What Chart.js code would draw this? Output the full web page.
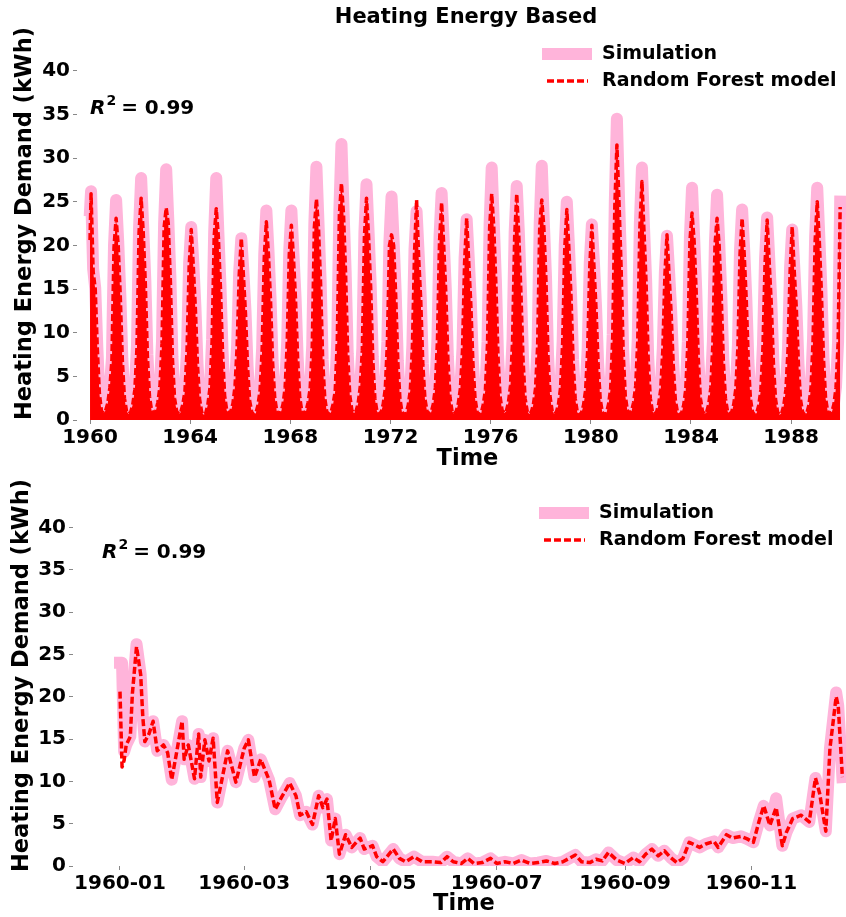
<!DOCTYPE html>
<html>
<head>
<meta charset="utf-8">
<script src="https://cdn.jsdelivr.net/npm/chart.js@4.4.1/dist/chart.umd.min.js"></script>
<style>
  html, body { margin: 0; padding: 0; background: #fff; overflow: hidden; }
  #top-wrap { position: absolute; left: 0; top: 0; width: 858px; height: 470px; }
  #bottom-wrap { position: absolute; left: 0; top: 470px; width: 855px; height: 447px; }
</style>
</head>
<body>
<div id="top-wrap"><canvas id="top-chart"></canvas></div>
<div id="bottom-wrap"><canvas id="bottom-chart"></canvas></div>
<script>
// ---- data -------------------------------------------------------------
const SIM_LABEL = 'Simulation';
const RF_LABEL = 'Random Forest model';

// top panel: monthly upper envelope of the daily series, one row per year (Jan..Dec)
const firstYear = 1960;
const topTickYears = [1960, 1964, 1968, 1972, 1976, 1980, 1984, 1988];
const simHigh = [
    [26.2, 17.3, 15.1, 8.3, 3.0, 1.1, 0.8, 1.2, 2.0, 3.7, 7.1, 20.0], // 1960
    [25.2, 20.5, 14.5, 7.0, 2.6, 1.0, 0.7, 0.9, 1.9, 3.6, 8.5, 22.0],
    [27.7, 22.0, 16.0, 7.5, 2.8, 1.2, 0.8, 1.0, 2.1, 3.9, 9.0, 22.5],
    [28.7, 23.0, 16.5, 7.2, 2.5, 1.0, 0.7, 0.9, 1.8, 3.4, 8.2, 18.0],
    [22.1, 18.0, 13.0, 6.5, 2.4, 0.9, 0.6, 0.8, 1.9, 3.8, 9.2, 21.5],
    [27.7, 21.5, 15.5, 8.0, 2.9, 1.1, 0.8, 1.0, 2.0, 4.0, 8.6, 17.0], // 1965
    [20.8, 17.0, 12.5, 6.2, 2.2, 0.9, 0.6, 0.8, 1.7, 3.5, 8.3, 19.0],
    [24.0, 19.5, 14.0, 6.8, 2.6, 1.0, 0.7, 0.9, 1.9, 3.8, 9.0, 19.5],
    [24.0, 19.0, 14.0, 7.2, 2.7, 1.0, 0.7, 1.0, 2.1, 3.7, 8.6, 22.5],
    [29.0, 22.5, 16.0, 6.9, 2.5, 0.9, 0.7, 0.9, 1.8, 3.4, 9.3, 24.0],
    [31.6, 24.0, 17.0, 7.6, 2.9, 1.1, 0.8, 1.0, 2.0, 3.9, 8.2, 21.5], // 1970
    [27.0, 21.5, 15.5, 7.2, 2.6, 1.0, 0.7, 0.9, 1.9, 3.7, 9.0, 20.5],
    [25.6, 20.5, 14.5, 6.8, 2.5, 0.9, 0.6, 0.8, 1.7, 3.5, 8.6, 19.5],
    [23.9, 19.0, 14.0, 6.5, 2.4, 1.0, 0.7, 0.9, 1.9, 3.8, 9.3, 21.0],
    [26.0, 20.5, 15.0, 7.2, 2.7, 1.0, 0.7, 1.0, 2.0, 3.7, 8.2, 18.5],
    [23.0, 18.5, 13.5, 6.7, 2.5, 0.9, 0.6, 0.8, 1.8, 3.6, 9.0, 22.5], // 1975
    [28.9, 22.5, 16.0, 7.6, 2.8, 1.1, 0.8, 1.0, 2.1, 4.0, 9.3, 21.5],
    [26.8, 21.5, 15.0, 7.2, 2.6, 1.0, 0.7, 0.9, 1.9, 3.7, 8.6, 22.5],
    [29.1, 22.5, 16.5, 7.4, 2.7, 1.0, 0.7, 0.9, 1.9, 3.8, 9.0, 20.0],
    [25.0, 20.0, 14.5, 6.9, 2.5, 0.9, 0.6, 0.8, 1.7, 3.5, 8.2, 18.0],
    [22.4, 18.0, 13.0, 6.5, 2.4, 0.9, 0.6, 0.8, 1.9, 3.7, 9.8, 25.0], // 1980
    [34.5, 25.5, 18.0, 8.0, 2.9, 1.1, 0.8, 1.0, 2.1, 4.0, 9.3, 22.5],
    [28.9, 22.0, 16.0, 7.2, 2.6, 1.0, 0.7, 0.9, 1.8, 3.6, 8.2, 17.0],
    [21.1, 17.0, 12.5, 6.5, 2.3, 0.9, 0.6, 0.8, 1.7, 3.6, 9.0, 21.0],
    [26.6, 21.0, 15.0, 7.2, 2.6, 1.0, 0.7, 0.9, 1.9, 3.8, 9.0, 20.5],
    [25.8, 20.5, 14.5, 7.0, 2.5, 1.0, 0.7, 0.9, 1.9, 3.7, 8.6, 19.5], // 1985
    [24.1, 19.5, 14.0, 6.8, 2.5, 0.9, 0.6, 0.8, 1.7, 3.6, 8.6, 18.5],
    [23.2, 18.5, 13.5, 6.7, 2.4, 0.9, 0.6, 0.8, 1.8, 3.6, 8.2, 17.5],
    [21.8, 17.5, 13.0, 6.5, 2.3, 0.9, 0.6, 0.8, 1.7, 3.7, 9.3, 21.0],
    [26.6, 21.0, 15.0, 7.2, 2.6, 1.0, 0.7, 0.9, 1.9, 3.8, 9.0, 25.0]  // 1989
];
const rfHigh = [
    [25.9, 17.0, 15.0, 8.2, 3.0, 1.0, 0.8, 1.1, 1.9, 3.7, 6.9, 19.8], // 1960
    [23.1, 20.0, 14.2, 6.8, 2.5, 1.0, 0.7, 0.9, 1.8, 3.5, 8.3, 21.5],
    [25.4, 21.5, 15.6, 7.3, 2.7, 1.1, 0.8, 1.0, 2.0, 3.8, 8.8, 22.0],
    [24.3, 22.5, 16.0, 7.0, 2.5, 1.0, 0.7, 0.9, 1.8, 3.3, 8.0, 17.6],
    [21.8, 17.6, 12.7, 6.3, 2.4, 0.9, 0.6, 0.8, 1.8, 3.7, 9.0, 21.0],
    [24.2, 21.0, 15.2, 7.8, 2.8, 1.1, 0.8, 1.0, 1.9, 3.9, 8.4, 16.6], // 1965
    [20.8, 16.6, 12.2, 6.1, 2.2, 0.9, 0.6, 0.8, 1.7, 3.4, 8.1, 18.6],
    [22.7, 19.0, 13.7, 6.6, 2.6, 1.0, 0.7, 0.9, 1.8, 3.7, 8.8, 19.0],
    [22.3, 18.6, 13.7, 7.0, 2.6, 1.0, 0.7, 1.0, 2.0, 3.6, 8.4, 22.0],
    [25.3, 22.0, 15.6, 6.8, 2.5, 0.9, 0.7, 0.9, 1.8, 3.3, 9.1, 23.5],
    [27.1, 23.5, 16.6, 7.4, 2.8, 1.1, 0.8, 1.0, 1.9, 3.8, 8.0, 21.0], // 1970
    [25.4, 21.0, 15.2, 7.0, 2.5, 1.0, 0.7, 0.9, 1.8, 3.6, 8.8, 20.0],
    [21.2, 20.0, 14.2, 6.7, 2.5, 0.9, 0.6, 0.8, 1.7, 3.4, 8.4, 19.0],
    [25.2, 18.6, 13.7, 6.3, 2.4, 1.0, 0.7, 0.9, 1.8, 3.7, 9.1, 20.5],
    [24.9, 20.0, 14.6, 7.0, 2.6, 1.0, 0.7, 1.0, 1.9, 3.6, 8.0, 18.0],
    [23.1, 18.0, 13.2, 6.5, 2.5, 0.9, 0.6, 0.8, 1.8, 3.5, 8.8, 22.0], // 1975
    [25.9, 22.0, 15.6, 7.4, 2.7, 1.1, 0.8, 1.0, 2.0, 3.9, 9.1, 21.0],
    [25.9, 21.0, 14.6, 7.0, 2.5, 1.0, 0.7, 0.9, 1.8, 3.6, 8.4, 22.0],
    [25.2, 22.0, 16.0, 7.2, 2.6, 1.0, 0.7, 0.9, 1.8, 3.7, 8.8, 19.6],
    [24.1, 19.6, 14.2, 6.8, 2.5, 0.9, 0.6, 0.8, 1.7, 3.4, 8.0, 17.6],
    [22.3, 17.6, 12.7, 6.3, 2.4, 0.9, 0.6, 0.8, 1.8, 3.6, 9.6, 24.5], // 1980
    [31.5, 25.0, 17.6, 7.8, 2.8, 1.1, 0.8, 1.0, 2.0, 3.9, 9.1, 22.0],
    [27.3, 21.5, 15.6, 7.0, 2.5, 1.0, 0.7, 0.9, 1.8, 3.5, 8.0, 16.6],
    [21.2, 16.6, 12.2, 6.3, 2.3, 0.9, 0.6, 0.8, 1.7, 3.5, 8.8, 20.5],
    [23.7, 20.5, 14.6, 7.0, 2.5, 1.0, 0.7, 0.9, 1.8, 3.7, 8.8, 20.0],
    [23.1, 20.0, 14.2, 6.8, 2.5, 1.0, 0.7, 0.9, 1.8, 3.6, 8.4, 19.0], // 1985
    [23.1, 19.0, 13.7, 6.6, 2.4, 0.9, 0.6, 0.8, 1.7, 3.5, 8.4, 18.0],
    [22.9, 18.0, 13.2, 6.5, 2.4, 0.9, 0.6, 0.8, 1.7, 3.5, 8.0, 17.0],
    [22.1, 17.0, 12.7, 6.3, 2.3, 0.9, 0.6, 0.8, 1.7, 3.6, 9.1, 20.5],
    [25.0, 20.5, 14.6, 7.0, 2.5, 1.0, 0.7, 0.9, 1.8, 3.7, 8.8, 24.4]  // 1989
];

// bottom panel: 1960, day of year
const bottomDays = [
    0, 1, 2, 3, 5, 6, 8, 10, 11, 12,
    14, 16, 18, 21, 23, 25, 28, 30, 31, 33,
    36, 38, 39, 41, 43, 45, 47, 49, 52, 56,
    60, 62, 65, 68, 72, 75, 78, 82, 85, 87,
    90, 93, 96, 98, 100, 102, 104, 106, 109, 112,
    116, 118, 122, 124, 127, 132, 135, 138, 142, 146,
    151, 155, 158, 161, 165, 168, 171, 175, 179, 182,
    186, 190, 194, 198, 202, 206, 210, 214, 217, 220,
    223, 227, 230, 233, 236, 240, 244, 248, 251, 254,
    257, 260, 263, 266, 269, 272, 275, 280, 283, 287,
    289, 293, 296, 300, 303, 306, 309, 311, 314, 317,
    320, 322, 325, 329, 333, 336, 338, 341, 343, 346,
    347, 349
];
const bottomSim = [
    24.0, 24.0, 13.5, 14.3, 15.3, 20.4, 26.2, 22.6, 17.7, 14.7,
    15.6, 17.1, 13.6, 14.3, 13.4, 10.2, 14.3, 17.1, 12.6, 14.3,
    10.3, 15.6, 10.5, 14.9, 12.4, 15.1, 7.5, 9.9, 13.6, 9.9,
    13.9, 14.9, 10.5, 12.6, 10.2, 6.7, 8.1, 9.8, 8.3, 6.0,
    6.4, 4.9, 8.3, 6.9, 7.9, 3.0, 5.6, 1.4, 3.7, 2.2,
    3.3, 2.0, 2.4, 1.1, 0.5, 2.0, 0.9, 0.5, 1.1, 0.5,
    0.5, 0.4, 1.1, 0.5, 0.3, 0.9, 0.3, 0.4, 0.9, 0.3,
    0.5, 0.3, 0.7, 0.3, 0.4, 0.6, 0.3, 0.5, 0.9, 1.3,
    0.5, 0.4, 0.8, 0.6, 1.6, 0.7, 0.3, 1.0, 0.5, 1.4,
    2.0, 1.2, 1.8, 1.0, 0.4, 0.9, 2.8, 2.2, 2.6, 2.9,
    2.2, 3.7, 3.3, 3.5, 3.2, 2.8, 5.5, 7.1, 4.8, 8.0,
    2.4, 4.0, 5.6, 6.0, 5.2, 10.4, 8.6, 4.1, 13.9, 20.5,
    18.9, 10.5
];
const bottomRf = [
    20.6, 11.7, 12.5, 14.3, 15.3, 20.4, 25.9, 22.6, 17.7, 14.7,
    15.6, 17.1, 13.6, 14.3, 13.4, 10.2, 14.3, 17.1, 12.6, 14.3,
    10.3, 15.6, 10.5, 14.9, 12.4, 15.1, 7.5, 9.9, 13.6, 9.9,
    13.9, 14.9, 10.5, 12.6, 10.2, 6.7, 8.1, 9.8, 8.3, 6.0,
    6.4, 4.9, 8.3, 6.9, 7.9, 3.0, 5.6, 1.4, 3.7, 2.2,
    3.3, 2.0, 2.4, 1.1, 0.5, 2.0, 0.9, 0.5, 1.1, 0.5,
    0.5, 0.4, 1.1, 0.5, 0.3, 0.9, 0.3, 0.4, 0.9, 0.3,
    0.5, 0.3, 0.7, 0.3, 0.4, 0.6, 0.3, 0.5, 0.9, 1.3,
    0.5, 0.4, 0.8, 0.6, 1.6, 0.7, 0.3, 1.0, 0.5, 1.4,
    2.0, 1.2, 1.8, 1.0, 0.4, 0.9, 2.8, 2.2, 2.6, 2.9,
    2.2, 3.7, 3.3, 3.5, 3.2, 2.8, 5.5, 7.1, 4.8, 6.9,
    2.4, 4.0, 5.6, 6.0, 5.2, 10.4, 8.6, 4.1, 13.9, 20.0,
    18.9, 10.5
];
const bottomTickDays = [0, 60, 121, 182, 244, 305];
const bottomTickLabels = ['1960-01', '1960-03', '1960-05', '1960-07', '1960-09', '1960-11'];
const yTicks = [0, 5, 10, 15, 20, 25, 30, 35, 40];

// ---- styling ----------------------------------------------------------
const FONT = "'DejaVu Sans', sans-serif";
const SIM_COLOR = '#ffb4da';
const RF_COLOR = '#ff0000';
const tickFont = { family: FONT, size: 20, weight: 'bold' };
const labelFont = { family: FONT, size: 22.5, weight: 'bold', lineHeight: 1 };

Chart.defaults.font.family = FONT;
Chart.defaults.color = '#000';

// monthly envelope points, starting from the first day of 1960
const envelopePoints = (highRows, startValue) => {
    const pts = [{ x: firstYear, y: startValue }];
    highRows.forEach((row, i) => {
        row.forEach((v, m) => pts.push({ x: firstYear + i + (m + 0.5) / 12, y: v }));
    });
    return pts;
};

const simDataset = (data) => ({
    label: SIM_LABEL, data,
    borderColor: SIM_COLOR, borderWidth: 12,
    borderJoinStyle: 'round', borderCapStyle: 'square',
    pointRadius: 0, tension: 0, clip: 0, order: 1
});
const rfDataset = (data) => ({
    label: RF_LABEL, data,
    borderColor: RF_COLOR, borderWidth: 3.5, borderDash: [7, 3],
    borderJoinStyle: 'round', borderCapStyle: 'butt',
    pointRadius: 0, tension: 0, clip: 0, order: 0
});

const yScale = (width, titlePad) => ({
    type: 'linear', min: 0, max: 45,
    afterBuildTicks: (axis) => { axis.ticks = yTicks.map(v => ({ value: v })); },
    afterFit: (axis) => { axis.width = width; },
    ticks: { font: tickFont, color: '#000', padding: 3 },
    grid: { drawOnChartArea: false, drawTicks: true, tickLength: 4, color: '#888' },
    border: { display: false },
    title: { display: true, text: 'Heating Energy Demand (kWh)', font: labelFont, color: '#000', padding: { top: titlePad, bottom: 0 } }
});

const xScaleBase = (height, titlePad) => ({
    type: 'linear',
    afterFit: (axis) => { axis.height = height; },
    grid: { drawOnChartArea: false, drawTicks: true, tickLength: 4, color: '#888' },
    border: { display: false },
    title: { display: true, text: 'Time', font: labelFont, color: '#000', padding: { top: 0, bottom: titlePad } }
});

function drawRSquared(ctx, x, base) {
    ctx.fillStyle = '#000';
    ctx.textAlign = 'left';
    ctx.textBaseline = 'alphabetic';
    ctx.font = `italic bold 20px ${FONT}`;
    ctx.fillText('R', x, base);
    let cx = x + ctx.measureText('R').width + 1;
    ctx.font = `bold 14px ${FONT}`;
    ctx.fillText('2', cx, base - 9);
    cx += ctx.measureText('2').width + 5;
    ctx.font = `bold 20px ${FONT}`;
    ctx.fillText('= 0.99', cx, base);
}

function drawLegend(ctx, x, y1, y2) {
    ctx.fillStyle = SIM_COLOR;
    ctx.fillRect(x, y1 - 6, 50, 12);
    ctx.strokeStyle = RF_COLOR;
    ctx.lineWidth = 3.5;
    ctx.setLineDash([7, 3]);
    ctx.beginPath();
    ctx.moveTo(x + 5, y2);
    ctx.lineTo(x + 46, y2);
    ctx.stroke();
    ctx.setLineDash([]);
    ctx.fillStyle = '#000';
    ctx.textAlign = 'left';
    ctx.textBaseline = 'middle';
    ctx.font = `bold 19px ${FONT}`;
    ctx.fillText(SIM_LABEL, x + 60, y1);
    ctx.fillText(RF_LABEL, x + 60, y2);
}

// ---- top panel: 1960-1990 ---------------------------------------------
// the daily red line is so dense here that it reads as a solid red area
new Chart(document.getElementById('top-chart'), {
    type: 'line',
    data: {
        datasets: [
            { ...rfDataset(envelopePoints(rfHigh, bottomRf[0])), fill: 'origin', backgroundColor: RF_COLOR },
            simDataset(envelopePoints(simHigh, bottomSim[0]))
        ]
    },
    options: {
        responsive: true,
        maintainAspectRatio: false,
        animation: false,
        layout: { padding: { top: 27, left: 0, right: 0, bottom: 0 } },
        plugins: { legend: { display: false }, tooltip: { enabled: false } },
        scales: {
            x: {
                ...xScaleBase(50, 0),
                min: 1959.48, max: 1990.67,
                afterBuildTicks: (axis) => { axis.ticks = topTickYears.map(v => ({ value: v })); },
                ticks: { font: tickFont, color: '#000', padding: 2, maxRotation: 0, autoSkip: false, callback: v => String(v) }
            },
            y: yScale(77, 14)
        }
    },
    plugins: [{
        id: 'topOverlay',
        afterDraw(chart) {
            const ctx = chart.ctx;
            ctx.save();
            ctx.fillStyle = '#000';
            ctx.textAlign = 'center';
            ctx.textBaseline = 'alphabetic';
            ctx.font = `bold 21px ${FONT}`;
            ctx.fillText('Heating Energy Based', 466, 23);
            drawRSquared(ctx, 90, 114);
            drawLegend(ctx, 542, 54, 81);
            ctx.restore();
        }
    }]
});

// ---- bottom panel: year 1960 -------------------------------------------
const zip = (days, vals) => days.map((d, i) => ({ x: d, y: vals[i] }));

new Chart(document.getElementById('bottom-chart'), {
    type: 'line',
    data: {
        datasets: [rfDataset(zip(bottomDays, bottomRf)), simDataset(zip(bottomDays, bottomSim))]
    },
    options: {
        responsive: true,
        maintainAspectRatio: false,
        animation: false,
        layout: { padding: { top: 0, left: 0, right: 0, bottom: 0 } },
        plugins: { legend: { display: false }, tooltip: { enabled: false } },
        scales: {
            x: {
                ...xScaleBase(51, 2),
                min: -22.7, max: 355.1,
                afterBuildTicks: (axis) => { axis.ticks = bottomTickDays.map(v => ({ value: v })); },
                ticks: {
                    font: tickFont, color: '#000', padding: 2, maxRotation: 0, autoSkip: false,
                    callback: v => bottomTickLabels[bottomTickDays.indexOf(v)]
                }
            },
            y: yScale(73, 11)
        }
    },
    plugins: [{
        id: 'bottomOverlay',
        afterDraw(chart) {
            const ctx = chart.ctx;
            ctx.save();
            drawRSquared(ctx, 102, 88);
            drawLegend(ctx, 539, 43, 70);
            ctx.restore();
        }
    }]
});
</script>
</body>
</html>
